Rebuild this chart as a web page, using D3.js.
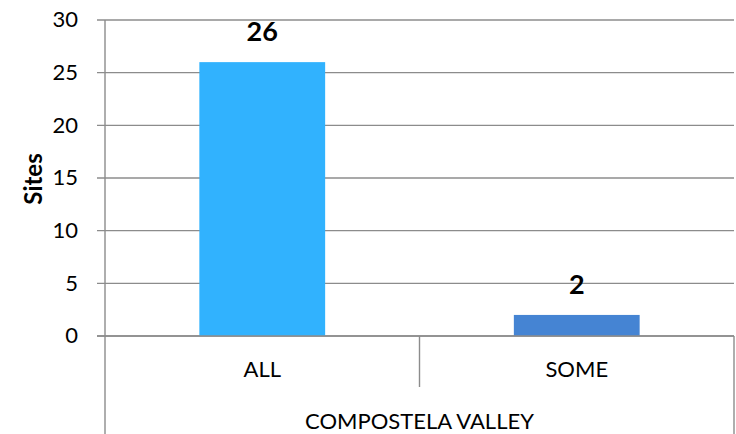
<!DOCTYPE html>
<html>
<head>
<meta charset="utf-8">
<script src="https://cdn.jsdelivr.net/npm/d3@7"></script>
<style>
  body { margin: 0; background: #fff; }
  svg { display: block; font-family: Lato, "Open Sans", sans-serif; }
  .grid line { stroke: #8c8c8c; stroke-width: 1.4; }
  .frame { stroke: #8c8c8c; stroke-width: 1.4; fill: none; }
</style>
</head>
<body>
<svg id="chart" width="736" height="434"></svg>
<script>
// data
var categories = ['ALL', 'SOME'];
var values = [26, 2];
var barColors = ['#31b2fe', '#4584d3'];
var groupLabel = 'COMPOSTELA VALLEY';
var yTicks = [0, 5, 10, 15, 20, 25, 30];
var yTitle = 'Sites';

var svg = d3.select('#chart'),
    plotLeft = 105, plotRight = 734, plotTop = 20, base = 336, plotBottom = 434;

var x = d3.scaleBand().domain(categories).range([plotLeft, plotRight]).padding(0),
    y = d3.scaleLinear().domain([0, 30]).range([base, plotTop]);

var barW = x.bandwidth() * 0.4;

// gridlines + tick labels
var grid = svg.append('g').attr('class', 'grid');
grid.selectAll('line')
    .data(yTicks)
    .enter().append('line')
    .attr('x1', plotLeft - 8)
    .attr('x2', plotRight)
    .attr('y1', function(d) { return y(d); })
    .attr('y2', function(d) { return y(d); });

svg.append('g').selectAll('text')
    .data(yTicks)
    .enter().append('text')
    .attr('x', 78)
    .attr('y', function(d) { return y(d); })
    .attr('dy', '0.33em')
    .attr('text-anchor', 'end')
    .style('font-size', '22px')
    .text(function(d) { return d; });

// bars
svg.append('g').selectAll('rect')
    .data(values)
    .enter().append('rect')
    .attr('x', function(d, i) { return x(categories[i]) + (x.bandwidth() - barW) / 2; })
    .attr('width', barW)
    .attr('y', function(d) { return y(d); })
    .attr('height', function(d) { return base - y(d); })
    .attr('fill', function(d, i) { return barColors[i]; });

// redraw the zero line over the bars
svg.append('line').attr('class', 'frame')
    .attr('x1', plotLeft - 8).attr('x2', plotRight)
    .attr('y1', y(0)).attr('y2', y(0));

// value labels
svg.append('g').selectAll('text')
    .data(values)
    .enter().append('text')
    .attr('x', function(d, i) { return x(categories[i]) + x.bandwidth() / 2; })
    .attr('y', function(d) { return y(d) - 21; })
    .attr('text-anchor', 'middle')
    .style('font-size', '27px')
    .style('font-weight', 'bold')
    .text(function(d) { return d; });

// axis frame: left axis, category divider, right edge
svg.append('line').attr('class', 'frame')
    .attr('x1', plotLeft).attr('x2', plotLeft).attr('y1', plotTop).attr('y2', plotBottom);
svg.append('line').attr('class', 'frame')
    .attr('x1', x('SOME')).attr('x2', x('SOME')).attr('y1', base).attr('y2', base + 51);
svg.append('line').attr('class', 'frame')
    .attr('x1', plotRight).attr('x2', plotRight).attr('y1', base).attr('y2', plotBottom);

// category labels
svg.append('g').selectAll('text')
    .data(categories)
    .enter().append('text')
    .attr('x', function(d) { return x(d) + x.bandwidth() / 2; })
    .attr('y', 377)
    .attr('text-anchor', 'middle')
    .style('font-size', '22px')
    .text(function(d) { return d; });

svg.append('text')
    .attr('x', (plotLeft + plotRight) / 2)
    .attr('y', 429)
    .attr('text-anchor', 'middle')
    .style('font-size', '22px')
    .text(groupLabel);

// y title
svg.append('text')
    .attr('transform', 'translate(42,' + 179 + ') rotate(-90)')
    .attr('text-anchor', 'middle')
    .style('font-size', '24px')
    .style('font-weight', 'bold')
    .text(yTitle);
</script>
</body>
</html>
